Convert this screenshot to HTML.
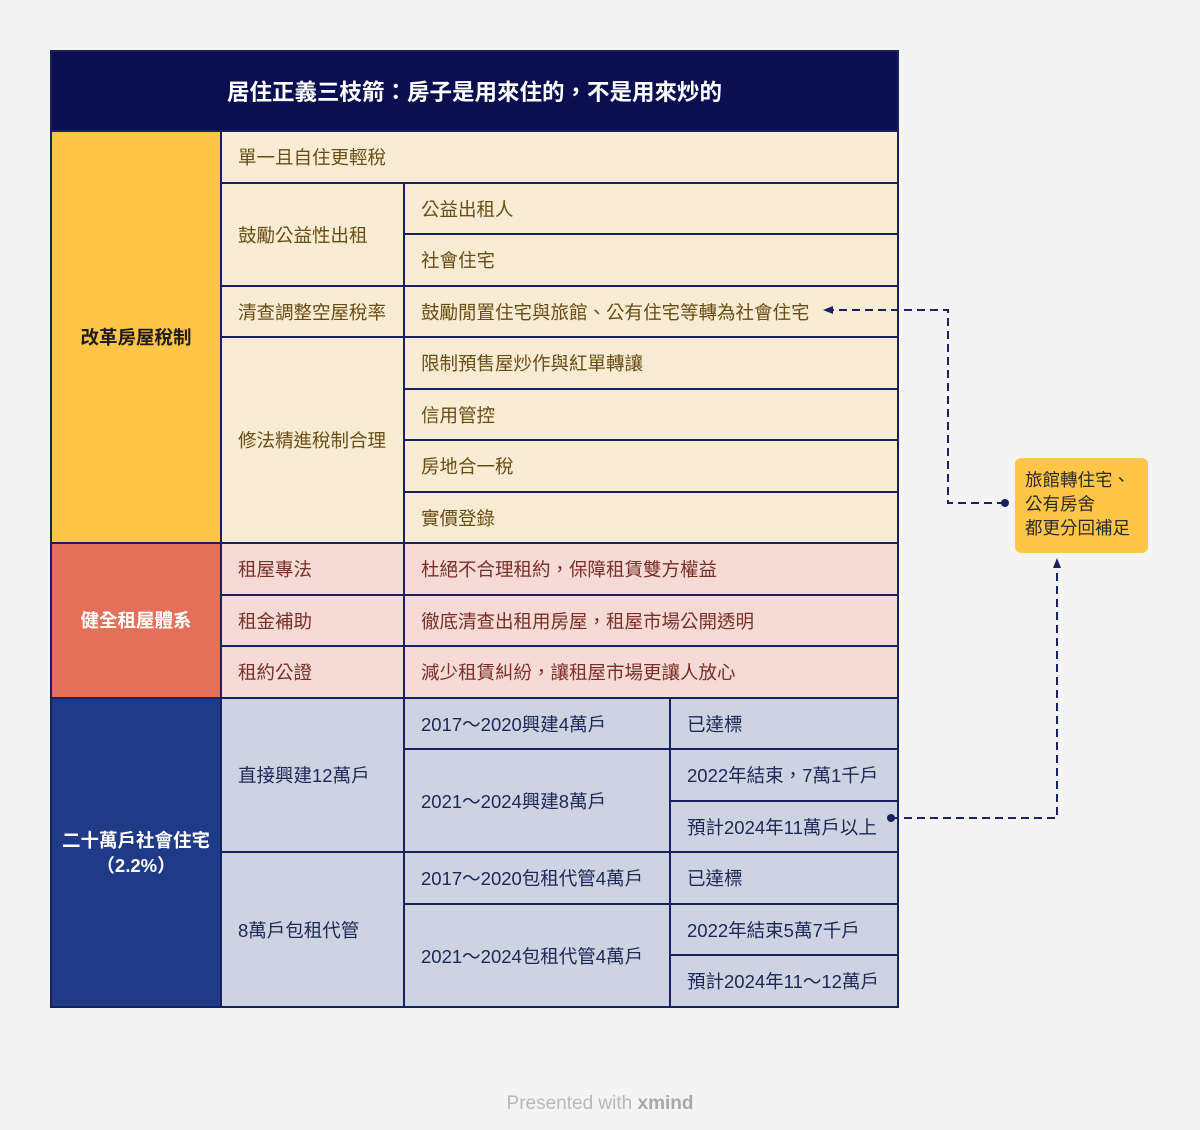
<!DOCTYPE html>
<html><head><meta charset="utf-8"><style>
body{margin:0;width:1200px;height:1130px;background:#f4f4f4;position:relative;overflow:hidden;font-family:"Liberation Sans","Noto Sans CJK TC",sans-serif}
.c{position:absolute;box-sizing:border-box;border:2px solid #1a2161;display:flex;align-items:center;font-size:18.5px;padding-left:16px;margin:-1px 0 0 -1px}
.y{background:#f9ecd4;color:#6a4c14}
.p{background:#f5dad6;color:#7a2f26}
.b{background:#cdd3e1;color:#1d2758}
.h{justify-content:center;padding:0;font-weight:bold;text-align:center}
</style></head><body>
<div class="c h" style="left:51px;top:51px;width:849px;height:82px;background:#0b0f52;color:#fff;font-size:22.5px">居住正義三枝箭：房子是用來住的，不是用來炒的</div>
<div id="t"></div>
<div style="position:absolute;left:1015px;top:458px;width:133px;height:95px;background:#fec547;border-radius:6px;box-sizing:border-box;padding:10px 10px;font-size:17.5px;line-height:24px;color:#2a2a2a">旅館轉住宅、<br>公有房舍<br>都更分回補足</div>
<svg style="position:absolute;left:0;top:0" width="1200" height="1130">
<g fill="none" stroke="#1a2161" stroke-width="2" stroke-dasharray="8,5">
<path d="M1005 503 H948 V310 H832"/>
<path d="M891 818 H1057 V568"/>
</g>
<circle cx="1005" cy="503" r="4" fill="#1a2161"/>
<circle cx="891" cy="818" r="4" fill="#1a2161"/>
<path d="M823 310 L833 306 L833 314Z" fill="#1a2161"/>
<path d="M1057 558 L1053 568 L1061 568Z" fill="#1a2161"/>
</svg>
<div style="position:absolute;left:0;width:1200px;top:1093px;text-align:center;color:#b8b8b8;font-size:19px">Presented with <b style="color:#a8a8a8">xmind</b></div>
<script>
var Y=r=>Math.round(131+51.5*r);
var X=[51,221,404,670,898];
var cells=[
[0,0,8,1,'h','改革房屋稅制','#fec547','#1e1e1e'],
[1,0,1,4,'y','單一且自住更輕稅'],
[1,1,3,2,'y','鼓勵公益性出租'],
[2,1,2,4,'y','公益出租人'],
[2,2,3,4,'y','社會住宅'],
[1,3,4,2,'y','清查調整空屋稅率'],
[2,3,4,4,'y','鼓勵閒置住宅與旅館、公有住宅等轉為社會住宅'],
[1,4,8,2,'y','修法精進稅制合理'],
[2,4,5,4,'y','限制預售屋炒作與紅單轉讓'],
[2,5,6,4,'y','信用管控'],
[2,6,7,4,'y','房地合一稅'],
[2,7,8,4,'y','實價登錄'],
[0,8,11,1,'h','健全租屋體系','#e5705a','#fff'],
[1,8,9,2,'p','租屋專法'],[2,8,9,4,'p','杜絕不合理租約，保障租賃雙方權益'],
[1,9,10,2,'p','租金補助'],[2,9,10,4,'p','徹底清查出租用房屋，租屋市場公開透明'],
[1,10,11,2,'p','租約公證'],[2,10,11,4,'p','減少租賃糾紛，讓租屋市場更讓人放心'],
[0,11,17,1,'h','二十萬戶社會住宅<br>（2.2%）','#1f3a86','#fff'],
[1,11,14,2,'b','直接興建12萬戶'],
[2,11,12,3,'b','2017～2020興建4萬戶'],
[2,12,14,3,'b','2021～2024興建8萬戶'],
[3,11,12,4,'b','已達標'],[3,12,13,4,'b','2022年結束，7萬1千戶'],[3,13,14,4,'b','預計2024年11萬戶以上'],
[1,14,17,2,'b','8萬戶包租代管'],
[2,14,15,3,'b','2017～2020包租代管4萬戶'],
[2,15,17,3,'b','2021～2024包租代管4萬戶'],
[3,14,15,4,'b','已達標'],[3,15,16,4,'b','2022年結束5萬7千戶'],[3,16,17,4,'b','預計2024年11～12萬戶']
];
var h='';
cells.forEach(c=>{var x1=X[c[0]],x2=X[c[3]],y1=Y(c[1]),y2=Y(c[2]);
var st='left:'+x1+'px;top:'+y1+'px;width:'+(x2-x1+2)+'px;height:'+(y2-y1+2)+'px;';
if(c[4]=='h')st+='background:'+c[6]+';color:'+c[7]+';font-size:18.5px;line-height:25px;';
h+='<div class="c '+c[4]+'" style="'+st+'">'+c[5]+'</div>';});
document.getElementById('t').innerHTML=h;
</script>
</body></html>
